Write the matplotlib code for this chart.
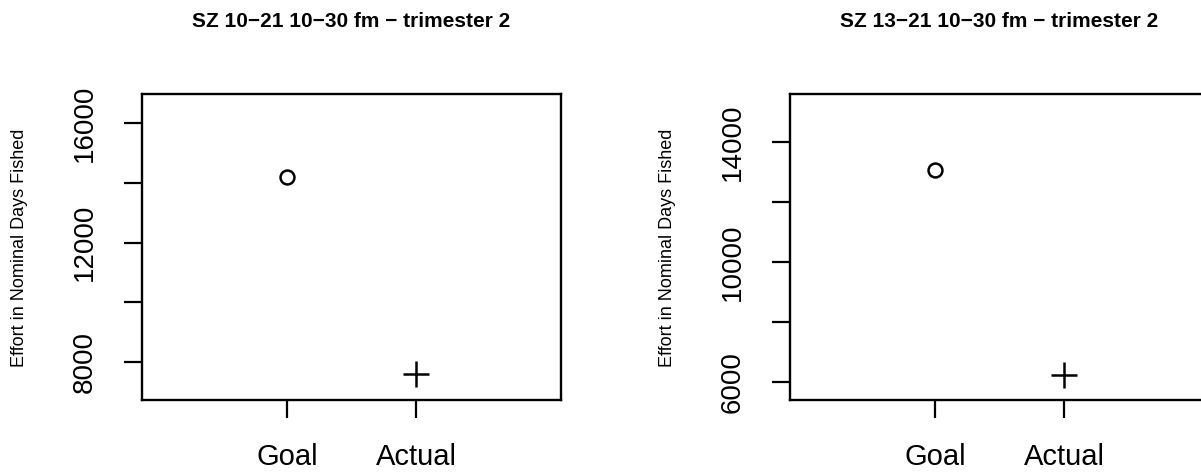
import matplotlib
matplotlib.use("Agg")
import matplotlib.pyplot as plt

# --- data ---
categories = ["Goal", "Actual"]
panel_titles = ["SZ 10\u221221 10\u221230 fm \u2212 trimester 2",
                "SZ 13\u221221 10\u221230 fm \u2212 trimester 2"]
goal_values = [14200, 13070]
actual_values = [7600, 6230]
y_limits = [(6730, 16970), (5400, 15600)]
y_ticks = [[8000, 10000, 12000, 14000, 16000],
           [6000, 8000, 10000, 12000, 14000]]
y_tick_labels = [["8000", "", "12000", "", "16000"],
                 ["6000", "", "10000", "", "14000"]]
y_label = "Effort in Nominal Days Fished"

plt.rcParams["font.family"] = ["Liberation Sans", "DejaVu Sans"]

W, H = 1201, 473
fig = plt.figure(figsize=(W / 100, H / 100), dpi=100)

# axes boxes in pixels (left, top, right, bottom)
boxes = [(142, 94, 561, 400), (790, 94, 1209, 400)]

for i in range(2):
    l, t, r, b = boxes[i]
    ax = fig.add_axes([l / W, 1 - b / H, (r - l) / W, (b - t) / H])
    xpos = list(range(1, len(categories) + 1))

    ax.plot(xpos[0], goal_values[i], marker="o", ms=10, mfc="none",
            mec="black", mew=1.8, ls="none")
    ax.plot(xpos[1], actual_values[i], marker="+", ms=19, color="black",
            mew=1.8, ls="none")

    ax.set_xlim(-0.12, 3.12)
    ax.set_ylim(*y_limits[i])
    ax.set_xticks(xpos)
    ax.set_xticklabels(categories, fontsize=21)
    ax.set_yticks(y_ticks[i])
    ax.set_yticklabels(y_tick_labels[i], fontsize=20, rotation=90,
                       va="center")
    ax.tick_params(axis="x", length=13, width=1.6, pad=18)
    ax.tick_params(axis="y", length=13, width=1.6, pad=19)
    for s in ax.spines.values():
        s.set_linewidth(1.7)

    fig.text(((l + r) / 2) / W, 1 - 27 / H, panel_titles[i], ha="center",
             va="baseline", fontsize=15, fontweight="bold")
    fig.text((l - 122) / W, 1 - 248 / H, y_label, rotation=90,
             ha="center", va="center", fontsize=13)

fig.savefig("out.png", dpi=100)
